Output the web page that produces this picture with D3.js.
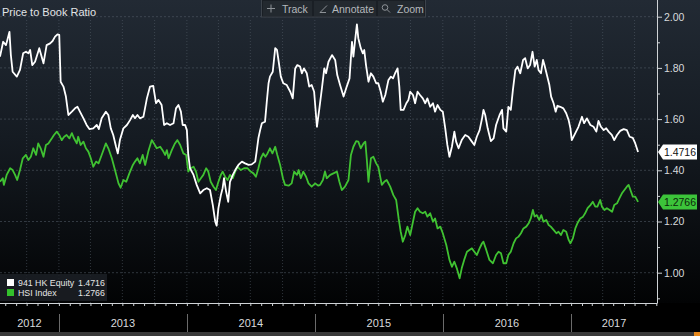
<!DOCTYPE html>
<html>
<head>
<meta charset="utf-8">
<script src="https://cdn.jsdelivr.net/npm/d3@7"></script>
<style>
  html, body { margin: 0; padding: 0; background: #000; }
  svg { display: block; font-family: "Liberation Sans", Arial, sans-serif; }
</style>
</head>
<body>
<svg id="chart" width="700" height="336"></svg>
<script>
// Weekly price-to-book ratios; dates are day offsets from the first observation.
const startDate = new Date(2012, 6, 17);

const equityDays = [0,9,17,21,27,31,36,48,57,66,74,81,86,92,100,112,124,133,143,150,157,164,169,173,181,188,195,205,214,221,228,238,247,255,266,276,282,290,302,309,316,323,331,336,342,352,362,371,379,385,392,399,409,419,428,437,445,452,461,468,476,485,495,502,509,516,521,528,533,537,542,552,561,571,580,590,599,607,614,618,623,630,635,639,645,651,656,664,671,680,690,699,709,718,728,732,737,742,747,756,761,766,770,778,785,790,795,801,808,818,828,835,842,848,856,861,867,875,882,889,896,904,911,918,925,930,937,947,956,962,970,980,989,997,1004,1008,1013,1018,1022,1029,1035,1039,1044,1051,1058,1065,1073,1079,1086,1092,1099,1108,1115,1121,1127,1134,1139,1143,1151,1159,1165,1170,1178,1184,1191,1198,1206,1213,1219,1227,1235,1241,1248,1256,1263,1270,1276,1282,1289,1296,1301,1308,1317,1327,1336,1346,1353,1360,1368,1375,1379,1384,1391,1400,1408,1415,1425,1432,1436,1444,1450,1457,1463,1470,1476,1484,1492,1498,1505,1512,1519,1525,1531,1536,1543,1549,1553,1560,1567,1572,1579,1585,1590,1598,1607,1615,1622,1627,1631,1641,1650,1660,1666,1674,1684,1693,1701,1707,1714,1722,1729,1736,1745,1752,1760,1769,1779,1788,1796,1805,1812,1820];
const equityValues = [1.844,1.902,1.889,1.909,1.941,1.850,1.785,1.766,1.792,1.857,1.863,1.857,1.870,1.811,1.824,1.877,1.818,1.889,1.896,1.905,1.922,1.931,1.929,1.746,1.727,1.688,1.616,1.629,1.642,1.648,1.629,1.603,1.577,1.561,1.564,1.577,1.561,1.603,1.629,1.616,1.564,1.538,1.492,1.466,1.518,1.564,1.577,1.596,1.616,1.603,1.616,1.603,1.609,1.681,1.727,1.730,1.662,1.675,1.655,1.577,1.584,1.577,1.584,1.642,1.655,1.629,1.577,1.577,1.557,1.460,1.408,1.382,1.343,1.310,1.323,1.330,1.323,1.264,1.199,1.184,1.252,1.303,1.330,1.369,1.316,1.277,1.355,1.382,1.401,1.421,1.434,1.427,1.421,1.423,1.434,1.473,1.525,1.557,1.584,1.590,1.668,1.740,1.766,1.785,1.877,1.870,1.824,1.766,1.740,1.733,1.707,1.681,1.798,1.811,1.805,1.779,1.798,1.779,1.727,1.733,1.707,1.570,1.642,1.718,1.798,1.779,1.824,1.850,1.831,1.772,1.733,1.688,1.727,1.759,1.902,1.844,1.909,1.970,1.916,1.877,1.857,1.870,1.811,1.746,1.779,1.766,1.740,1.740,1.707,1.668,1.694,1.753,1.766,1.759,1.779,1.798,1.727,1.636,1.636,1.662,1.675,1.707,1.694,1.662,1.707,1.694,1.681,1.662,1.681,1.648,1.662,1.629,1.655,1.636,1.629,1.564,1.499,1.453,1.492,1.551,1.512,1.486,1.518,1.538,1.531,1.512,1.499,1.531,1.557,1.603,1.636,1.616,1.564,1.514,1.525,1.577,1.616,1.636,1.564,1.551,1.648,1.636,1.714,1.792,1.805,1.779,1.831,1.838,1.798,1.811,1.863,1.805,1.831,1.792,1.779,1.831,1.811,1.772,1.733,1.688,1.662,1.629,1.652,1.648,1.642,1.623,1.596,1.564,1.518,1.545,1.570,1.609,1.584,1.603,1.577,1.570,1.551,1.593,1.570,1.557,1.564,1.551,1.538,1.518,1.538,1.554,1.561,1.557,1.531,1.527,1.505,1.4716];

const indexDays = [0,8,11,19,29,36,43,49,57,65,74,81,88,95,103,109,116,124,131,138,148,154,162,169,176,183,190,198,205,211,219,223,230,238,245,252,259,266,274,281,290,302,309,319,328,338,344,352,360,369,379,385,392,399,407,414,423,433,439,447,457,466,471,476,481,490,499,506,514,523,531,537,544,552,559,566,573,580,588,594,601,609,616,623,630,635,642,649,656,664,671,677,687,696,706,715,723,730,737,744,751,757,763,770,777,785,791,799,807,813,823,832,839,847,852,858,865,873,880,889,899,908,913,921,927,932,942,951,961,968,975,984,994,1001,1008,1016,1022,1029,1037,1042,1046,1051,1058,1065,1073,1079,1089,1096,1103,1113,1122,1130,1137,1143,1149,1156,1162,1170,1178,1184,1191,1198,1206,1213,1219,1227,1235,1241,1248,1256,1263,1273,1282,1289,1296,1303,1311,1317,1324,1332,1339,1346,1353,1360,1368,1375,1379,1387,1396,1406,1415,1422,1429,1436,1444,1450,1457,1465,1472,1479,1486,1493,1501,1508,1514,1520,1525,1531,1538,1544,1550,1558,1565,1571,1579,1587,1593,1600,1607,1615,1622,1627,1634,1641,1647,1655,1663,1669,1676,1684,1691,1698,1704,1712,1717,1724,1731,1739,1746,1752,1760,1767,1774,1781,1788,1793,1800,1805,1812,1820];
const indexValues = [1.355,1.369,1.343,1.382,1.408,1.401,1.382,1.362,1.401,1.447,1.460,1.440,1.453,1.486,1.460,1.505,1.486,1.453,1.499,1.505,1.525,1.538,1.551,1.538,1.518,1.531,1.538,1.525,1.545,1.525,1.505,1.531,1.499,1.512,1.486,1.473,1.447,1.414,1.434,1.427,1.460,1.505,1.486,1.447,1.401,1.349,1.332,1.362,1.355,1.388,1.421,1.434,1.447,1.427,1.460,1.421,1.473,1.518,1.505,1.486,1.492,1.473,1.460,1.479,1.447,1.479,1.505,1.518,1.499,1.466,1.460,1.395,1.408,1.414,1.395,1.355,1.369,1.382,1.408,1.395,1.355,1.336,1.323,1.355,1.382,1.395,1.375,1.362,1.382,1.369,1.395,1.414,1.401,1.408,1.408,1.395,1.388,1.375,1.408,1.447,1.466,1.453,1.466,1.486,1.466,1.492,1.460,1.421,1.369,1.343,1.340,1.349,1.395,1.382,1.401,1.369,1.395,1.375,1.349,1.336,1.349,1.340,1.343,1.362,1.395,1.369,1.382,1.388,1.395,1.355,1.323,1.336,1.362,1.460,1.492,1.514,1.512,1.486,1.505,1.512,1.447,1.355,1.447,1.453,1.427,1.414,1.343,1.355,1.362,1.336,1.303,1.284,1.212,1.160,1.121,1.147,1.180,1.147,1.199,1.238,1.252,1.238,1.232,1.238,1.219,1.232,1.199,1.212,1.173,1.180,1.154,1.108,1.050,1.023,1.043,1.017,0.978,1.017,1.050,1.082,1.089,1.095,1.082,1.069,1.095,1.115,1.121,1.089,1.050,1.037,1.069,1.082,1.076,1.037,1.037,1.069,1.082,1.115,1.134,1.141,1.154,1.173,1.180,1.193,1.212,1.245,1.219,1.225,1.206,1.225,1.199,1.206,1.186,1.180,1.167,1.154,1.160,1.147,1.167,1.160,1.128,1.115,1.134,1.173,1.193,1.212,1.219,1.232,1.252,1.264,1.277,1.258,1.258,1.284,1.258,1.245,1.252,1.245,1.238,1.264,1.271,1.291,1.310,1.323,1.336,1.343,1.316,1.297,1.297,1.2766];

const seriesNames = ["941 HK Equity", "HSI Index"];
const seriesColors = ["#ffffff", "#40c232"];
const lastValues = [1.4716, 1.2766];
const yearLabels = ["2012", "2013", "2014", "2015", "2016", "2017"];
const majorTicks = [1.0, 1.2, 1.4, 1.6, 1.8, 2.0];
const minorTicks = [0.9, 1.1, 1.3, 1.5, 1.7, 1.9];
const titleText = "Price to Book Ratio";
const toolbarItems = ["Track", "Annotate", "Zoom"];

const W = 700, H = 336;
const plotRight = 657, axisY = 303;
const svg = d3.select("#chart");

const x = d3.scaleTime()
  .domain([startDate, new Date(2017, 8, 3)])
  .range([0, plotRight]);
const y = d3.scaleLinear().domain([1, 2]).range([272.7, 16.7]);

const toDate = d => d3.timeDay.offset(startDate, d);
const equity = equityDays.map((d, i) => ({ date: toDate(d), value: equityValues[i] }));
const hsi = indexDays.map((d, i) => ({ date: toDate(d), value: indexValues[i] }));

// Background: dark slate fading to black
const defs = svg.append("defs");
const grad = defs.append("linearGradient").attr("id", "bg")
  .attr("x1", 0).attr("y1", 0).attr("x2", 0).attr("y2", 1);
grad.append("stop").attr("offset", "0%").attr("stop-color", "#222a34");
grad.append("stop").attr("offset", "45%").attr("stop-color", "#151b22");
grad.append("stop").attr("offset", "100%").attr("stop-color", "#020304");
svg.append("rect").attr("width", W).attr("height", axisY).attr("fill", "url(#bg)");
svg.append("rect").attr("y", axisY).attr("width", W).attr("height", H - axisY).attr("fill", "#000");
svg.append("rect").attr("y", 332).attr("width", W).attr("height", 4).attr("fill", "#3a3a3a");
svg.append("rect").attr("x", 694).attr("y", 332).attr("width", 6).attr("height", 4).attr("fill", "#e8891c");

// Quarterly vertical grid
const quarters = d3.timeMonth.every(3).range(startDate, x.domain()[1]);
svg.append("g").selectAll("line").data(quarters).join("line")
  .attr("x1", d => x(d)).attr("x2", d => x(d))
  .attr("y1", 20).attr("y2", axisY)
  .attr("stroke", "#5a6470").attr("stroke-opacity", 0.5)
  .attr("stroke-width", 1).attr("stroke-dasharray", "1,2");

// Horizontal grid at labelled ratios
svg.append("g").selectAll("line").data(majorTicks).join("line")
  .attr("x1", 0).attr("x2", plotRight)
  .attr("y1", d => y(d)).attr("y2", d => y(d))
  .attr("stroke", "#5a6470").attr("stroke-opacity", 0.5)
  .attr("stroke-dasharray", "2,2");

// Series lines
const line = d3.line().x(d => x(d.date)).y(d => y(d.value)).curve(d3.curveLinear);
svg.append("path").datum(hsi).attr("d", line)
  .attr("fill", "none").attr("stroke", seriesColors[1]).attr("stroke-width", 1.8)
  .attr("stroke-linejoin", "round");
svg.append("path").datum(equity).attr("d", line)
  .attr("fill", "none").attr("stroke", seriesColors[0]).attr("stroke-width", 1.8)
  .attr("stroke-linejoin", "round");

// Right value axis
const yAxis = d3.axisRight(y).tickValues(majorTicks).tickFormat(d3.format(".2f")).tickSize(5).tickPadding(2);
const yAxisG = svg.append("g").attr("transform", `translate(${plotRight},0)`).call(yAxis);
yAxisG.select(".domain").attr("d", `M0.5,0V${axisY}`).attr("stroke", "#cfd3d6");
yAxisG.selectAll(".tick line").attr("stroke", "#cfd3d6");
yAxisG.selectAll(".tick text").attr("fill", "#d8dadc")
  .style("font-size", "10.5px").style("font-family", "Liberation Sans, Arial, sans-serif");
const yMinor = d3.axisRight(y).tickValues(minorTicks).tickFormat("").tickSize(3);
const yMinorG = svg.append("g").attr("transform", `translate(${plotRight},0)`).call(yMinor);
yMinorG.select(".domain").remove();
yMinorG.selectAll(".tick line").attr("stroke", "#cfd3d6");

// Time axis with monthly ticks
const xAxis = d3.axisBottom(x).ticks(d3.timeMonth.every(1)).tickFormat("").tickSize(3);
const xAxisG = svg.append("g").attr("transform", `translate(0,${axisY})`).call(xAxis);
xAxisG.select(".domain").attr("d", `M0,0.5H${plotRight + 0.5}`).attr("stroke", "#cfd3d6");
xAxisG.selectAll(".tick line").attr("stroke", "#cfd3d6");

// Year separators and labels
const yearStarts = d3.timeYear.range(x.domain()[0], x.domain()[1]);
svg.append("g").selectAll("line").data(yearStarts).join("line")
  .attr("x1", d => Math.round(x(d)) + 0.5).attr("x2", d => Math.round(x(d)) + 0.5)
  .attr("y1", 314).attr("y2", 332).attr("stroke", "#6a6a6a");
const yearBounds = [x.domain()[0], ...yearStarts, x.domain()[1]];
svg.append("g").selectAll("text").data(yearLabels).join("text")
  .attr("x", (d, i) => (x(yearBounds[i]) + x(yearBounds[i + 1])) / 2)
  .attr("y", 327).attr("text-anchor", "middle")
  .attr("fill", "#d8dadc").style("font-size", "11px").text(d => d);

// Last-value tags on the right axis
const tagG = svg.append("g");
lastValues.forEach((v, i) => {
  const cy = y(v);
  tagG.append("path")
    .attr("d", `M${plotRight + 1},${cy} L${plotRight + 6},${cy - 7.5} H697 V${cy + 7.5} H${plotRight + 6} Z`)
    .attr("fill", i === 0 ? "#ffffff" : "#3cc43a");
  tagG.append("text").attr("x", 680).attr("y", cy + 3.8).attr("text-anchor", "middle")
    .attr("fill", i === 0 ? "#111" : "#0d260b").style("font-size", "10.5px")
    .text(d3.format(".4f")(v));
});

// Legend
const legend = svg.append("g");
legend.append("rect").attr("x", 0).attr("y", 274).attr("width", 107).attr("height", 27)
  .attr("fill", "#1c2026").attr("fill-opacity", 0.85);
seriesNames.forEach((name, i) => {
  const ly = 279 + i * 10;
  legend.append("rect").attr("x", 7).attr("y", ly).attr("width", 7).attr("height", 7)
    .attr("fill", i === 0 ? "#ffffff" : "#33c02c");
  legend.append("text").attr("x", 18).attr("y", ly + 7).attr("fill", "#e6e6e6")
    .style("font-size", "8.8px").text(name);
  legend.append("text").attr("x", 78).attr("y", ly + 7).attr("fill", "#e6e6e6")
    .style("font-size", "8.8px").text(d3.format(".4f")(lastValues[i]));
});

// Title
svg.append("text").attr("x", 2).attr("y", 16).attr("fill", "#e2e4e6")
  .style("font-size", "11px").text(titleText);

// Toolbar
const tb = svg.append("g");
tb.append("rect").attr("x", 261.5).attr("y", -1).attr("width", 164).attr("height", 18)
  .attr("fill", "#1a1f25").attr("stroke", "#3c434b");
const itemBoxes = [[263, 49], [314, 62], [378, 46]];
const iconX = [271, 324, 386];
const textX = [282, 332, 397];
toolbarItems.forEach((t, i) => {
  tb.append("rect").attr("x", itemBoxes[i][0]).attr("y", 1).attr("width", itemBoxes[i][1]).attr("height", 15)
    .attr("fill", "#23292f");
  tb.append("text").attr("x", textX[i]).attr("y", 12.5).attr("fill", "#b4b8bc")
    .style("font-size", "10.5px").text(t);
});
// Toolbar icons: crosshair, pencil stroke, magnifier
const ic = tb.append("g").attr("stroke", "#8d9297").attr("fill", "none").attr("stroke-width", 1);
ic.append("path").attr("d", `M${iconX[0]},4.5 V12.5 M${iconX[0] - 4},8.5 H${iconX[0] + 4}`);
ic.append("path").attr("d", `M${iconX[1] - 4},12.5 L${iconX[1] + 3},5.5 M${iconX[1] - 4},12.5 H${iconX[1] + 2}`);
ic.append("circle").attr("cx", iconX[2] - 1).attr("cy", 7.5).attr("r", 2.8);
ic.append("path").attr("d", `M${iconX[2] + 1},9.5 L${iconX[2] + 4},12.5`);
</script>
</body>
</html>
